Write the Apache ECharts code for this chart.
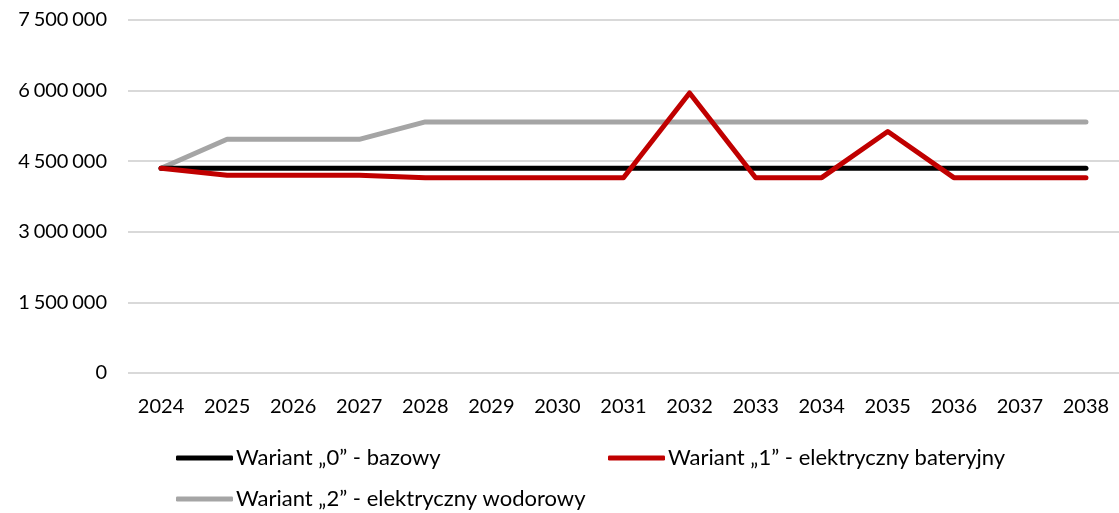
<!DOCTYPE html>
<html>
<head>
<meta charset="utf-8">
<script src="https://cdn.jsdelivr.net/npm/echarts@6/dist/echarts.min.js"></script>
<style>
  html, body { margin: 0; padding: 0; background: #fff; }
  #chart { width: 1119px; height: 513px; }
</style>
</head>
<body>
<div id="chart"></div>
<script>
// Years on the horizontal axis
const years = ['2024','2025','2026','2027','2028','2029','2030','2031','2032','2033','2034','2035','2036','2037','2038'];

// Series values
const wariant0 = [4350000,4350000,4350000,4350000,4350000,4350000,4350000,4350000,4350000,4350000,4350000,4350000,4350000,4350000,4350000];
const wariant1 = [4350000,4200000,4200000,4200000,4150000,4150000,4150000,4150000,5950000,4150000,4150000,5130000,4150000,4150000,4150000];
const wariant2 = [4350000,4965000,4965000,4965000,5335000,5335000,5335000,5335000,5335000,5335000,5335000,5335000,5335000,5335000,5335000];

const seriesNames = ['Wariant „0” - bazowy', 'Wariant „1” - elektryczny bateryjny', 'Wariant „2” - elektryczny wodorowy'];

const FONT = 'Lato, "Open Sans", sans-serif';

// thousands separated by spaces
function fmt(v) {
  return String(v).replace(/\B(?=(\d{3})+(?!\d))/g, '\u2009\u200a');
}

const chart = echarts.init(document.getElementById('chart'), null, { renderer: 'canvas' });

function legendFor(name, left, top) {
  return {
    data: [name],
    left: left,
    top: top,
    padding: 0,
    orient: 'horizontal',
    icon: 'roundRect',
    itemWidth: 57,
    itemHeight: 5,
    textStyle: { fontFamily: FONT, fontSize: 22, color: '#000', padding: [0, 0, 0, -2] },
    selectedMode: false
  };
}

chart.setOption({
  animation: false,
  backgroundColor: '#fff',
  grid: { left: 128, right: 0, top: 20, bottom: 140 },
  legend: [
    legendFor(seriesNames[0], 176, 447),
    legendFor(seriesNames[1], 608, 447),
    legendFor(seriesNames[2], 176, 488)
  ],
  xAxis: {
    type: 'category',
    data: years,
    boundaryGap: true,
    axisLine: { show: false },
    axisTick: { show: false },
    axisLabel: { fontFamily: FONT, fontSize: 20, color: '#000', margin: 24 }
  },
  yAxis: {
    type: 'value',
    min: 0,
    max: 7500000,
    interval: 1500000,
    axisLine: { show: false },
    axisTick: { show: false },
    splitLine: { lineStyle: { color: '#d9d9d9', width: 2 } },
    axisLabel: { fontFamily: FONT, fontSize: 20, color: '#000', margin: 21, formatter: fmt }
  },
  series: [
    {
      name: seriesNames[0], type: 'line', data: wariant0, symbol: 'none',
      lineStyle: { color: '#000', width: 5, cap: 'round', join: 'round' },
      itemStyle: { color: '#000' }, z: 3
    },
    {
      name: seriesNames[1], type: 'line', data: wariant1, symbol: 'none',
      lineStyle: { color: '#c00000', width: 5, cap: 'round', join: 'round' },
      itemStyle: { color: '#c00000' }, z: 4
    },
    {
      name: seriesNames[2], type: 'line', data: wariant2, symbol: 'none',
      lineStyle: { color: '#a5a5a5', width: 5, cap: 'round', join: 'round' },
      itemStyle: { color: '#a5a5a5' }, z: 2
    }
  ]
});
</script>
</body>
</html>
